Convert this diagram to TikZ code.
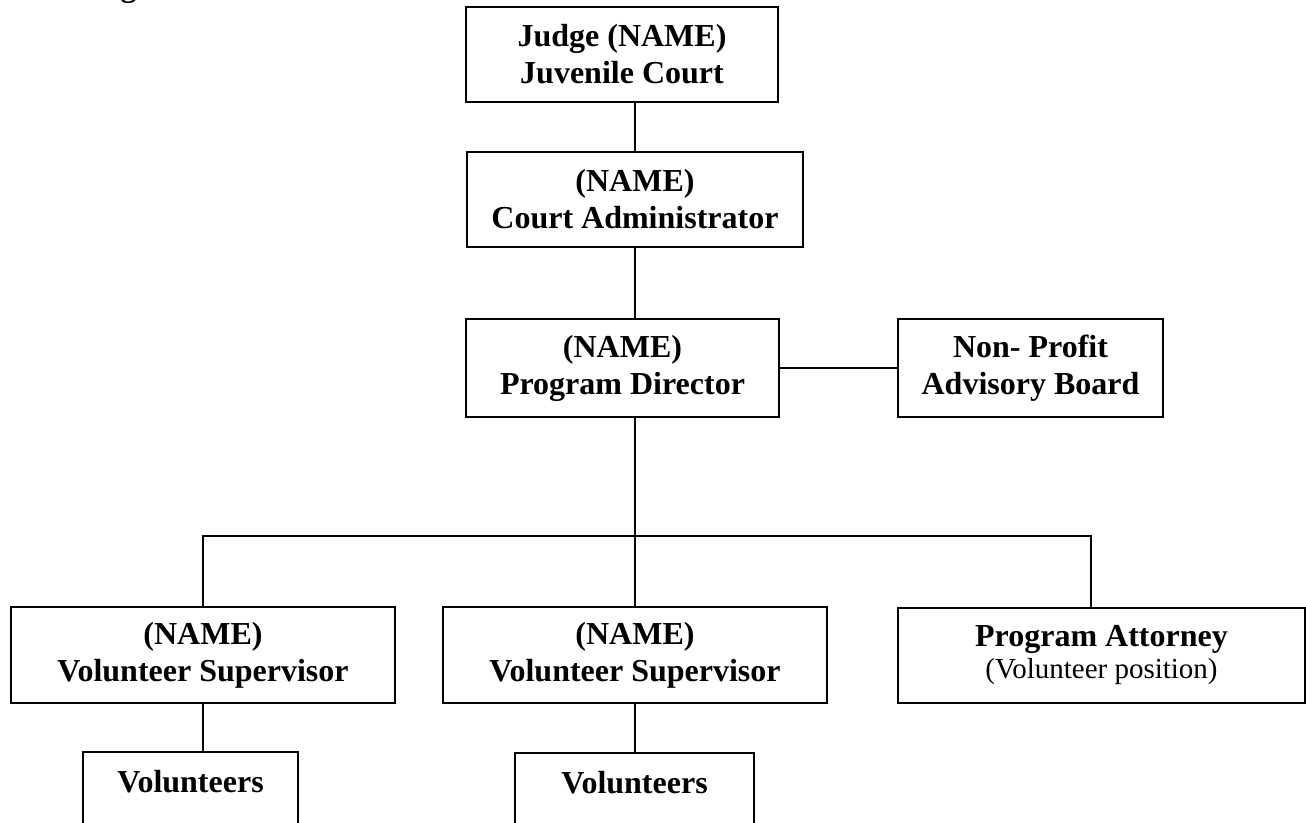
\documentclass[tikz,border=0pt]{standalone}
\usepackage{fontspec}
\setmainfont{Liberation Serif}
\begin{document}
\begin{tikzpicture}[x=1pt,y=-1pt,
  box/.style={draw,line width=1.5pt,rectangle,align=center,inner sep=0pt,
    font=\fontsize{32}{37}\selectfont\bfseries},
  wire/.style={line width=1.5pt}]
\useasboundingbox (0,0) rectangle (1306,822);
\clip (0,0) rectangle (1306,822);
% cut-off heading fragment (only the descender shows, as in the reference)
\node[anchor=base,inner sep=0pt,font=\fontsize{32}{37}\selectfont\bfseries] (head) at (128.5,-3.5) {g};
% boxes
\node[box,minimum width=312pt,minimum height=95pt] (judge) at (622,54.5) {Judge (NAME)\\Juvenile Court};
\node[box,minimum width=336pt,minimum height=95pt] (ca) at (635,199.5) {(NAME)\\Court Administrator};
\node[box,minimum width=313pt,minimum height=98pt] (pd) at (622.5,368) {(NAME)\\Program Director};
\node[box,minimum width=265pt,minimum height=98pt] (np) at (1030.5,368) {Non- Profit\\Advisory Board};
\node[box,minimum width=384pt,minimum height=96pt] (vs1) at (203,655) {(NAME)\\Volunteer Supervisor};
\node[box,minimum width=384pt,minimum height=96pt] (vs2) at (635,655) {(NAME)\\Volunteer Supervisor};
\node[box,minimum width=407pt,minimum height=95pt] (pa) at (1101.5,655.5) {Program Attorney\\[-5pt]{\fontsize{29}{32}\selectfont\mdseries (Volunteer position)}};
\node[box,anchor=north,minimum width=215pt,text height=22pt,text depth=70pt,inner ysep=19pt] (vol1) at (190.5,751) {Volunteers};
\node[box,anchor=north,minimum width=239pt,text height=22pt,text depth=70pt,inner ysep=19pt] (vol2) at (634.5,752) {Volunteers};
% connector points
\coordinate (spine) at (635,0);
\coordinate (bus) at (635,536);
\coordinate (patop) at (1091,608);
% connectors
\draw[wire] (judge.south -| spine) -- (ca.north -| spine);
\draw[wire] (ca.south -| spine) -- (pd.north -| spine);
\draw[wire] (pd.east) -- (np.west);
\draw[wire] (pd.south -| spine) -- (bus);
\draw[wire] (vs1.north) |- (bus) -| (patop);
\draw[wire] (bus) -- (vs2.north);
\draw[wire] (vs1.south) -- (vs1.south |- vol1.north);
\draw[wire] (vs2.south) -- (vs2.south |- vol2.north);
\end{tikzpicture}
\end{document}
